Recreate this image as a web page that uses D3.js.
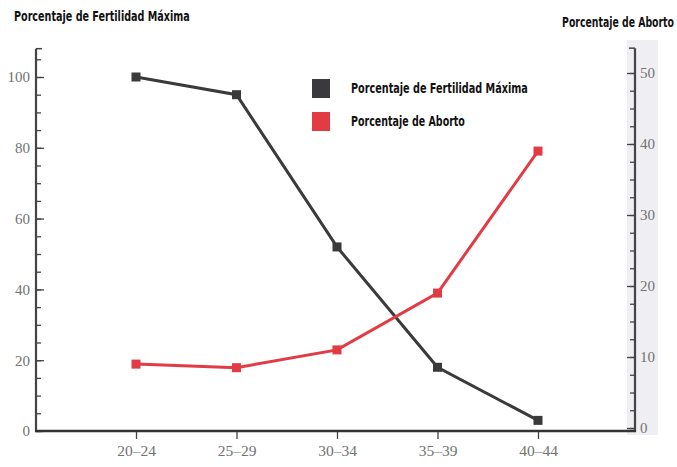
<!DOCTYPE html>
<html>
<head>
<meta charset="utf-8">
<script src="https://cdn.jsdelivr.net/npm/d3@7"></script>
<style>
  html, body { margin: 0; padding: 0; background: #fff; }
  svg { display: block; }
  .ttl { font-family: "Liberation Sans Narrow", "DejaVu Sans Condensed", sans-serif; font-weight: bold; fill: #111; font-stretch: condensed; }
  .tick text { font-family: "Liberation Serif", "DejaVu Serif", serif; fill: #727272; }
</style>
</head>
<body>
<script>
const categories = ["20–24", "25–29", "30–34", "35–39", "40–44"];
const fertilidad = [100, 95, 52, 18, 3];
const aborto = [9, 8.5, 11, 19, 39];
const leftTicks = [0, 20, 40, 60, 80, 100];
const rightTicks = [0, 10, 20, 30, 40, 50];
const seriesNames = ["Porcentaje de Fertilidad Máxima", "Porcentaje de Aborto"];
const leftTitle = "Porcentaje de Fertilidad Máxima";
const rightTitle = "Porcentaje de Aborto";

const W = 677, H = 467;
const svg = d3.select("body").append("svg").attr("width", W).attr("height", H);

const x = d3.scalePoint().domain(categories).range([136, 538]);
const yL = d3.scaleLinear().domain([0, 100]).range([431, 77]);
const yR = d3.scaleLinear().domain([0, 50]).range([428, 73]);

const axisColor = "#444";

// light strip behind right axis
svg.append("rect").attr("x", 627).attr("y", 40).attr("width", 31).attr("height", 395).attr("fill", "#efeff3");

// Left axis
const gL = svg.append("g").attr("transform", "translate(36,0)");
gL.call(d3.axisLeft(yL).tickValues(d3.range(0, 110, 5)).tickSizeInner(-5).tickSizeOuter(0).tickFormat(""));
gL.select(".domain").remove();
gL.selectAll(".tick line").attr("stroke", axisColor).attr("stroke-width", 1.3);
const gL2 = svg.append("g").attr("transform", "translate(36,0)");
gL2.call(d3.axisLeft(yL).tickValues(leftTicks).tickSizeInner(-8).tickSizeOuter(0).tickPadding(6).tickFormat(d3.format("d")));
gL2.select(".domain").remove();
gL2.selectAll(".tick line").attr("stroke", axisColor).attr("stroke-width", 1.3);
gL2.selectAll(".tick text").attr("font-size", 15).attr("dy", "0.32em");
svg.append("line").attr("x1", 36).attr("x2", 36).attr("y1", yL(108)).attr("y2", 432)
  .attr("stroke", axisColor).attr("stroke-width", 2.2);
svg.append("line").attr("x1", 36).attr("x2", 42).attr("y1", yL(108)).attr("y2", yL(108))
  .attr("stroke", axisColor).attr("stroke-width", 1.5);

// Right axis
const gR = svg.append("g").attr("transform", "translate(635,0)");
gR.call(d3.axisRight(yR).tickValues(d3.range(0, 52.5, 2.5)).tickSizeInner(-5).tickSizeOuter(0).tickFormat(""));
gR.select(".domain").remove();
gR.selectAll(".tick line").attr("stroke", axisColor).attr("stroke-width", 1.3);
const gR2 = svg.append("g").attr("transform", "translate(635,0)");
gR2.call(d3.axisRight(yR).tickValues(rightTicks).tickSizeInner(-8).tickSizeOuter(0).tickPadding(5).tickFormat(d3.format("d")));
gR2.select(".domain").remove();
gR2.selectAll(".tick line").attr("stroke", axisColor).attr("stroke-width", 1.3);
gR2.selectAll(".tick text").attr("font-size", 15).attr("dy", "0.32em");
svg.append("line").attr("x1", 635).attr("x2", 635).attr("y1", yR(53.5)).attr("y2", 432)
  .attr("stroke", axisColor).attr("stroke-width", 2.2);
svg.append("line").attr("x1", 629).attr("x2", 635).attr("y1", yR(53.5)).attr("y2", yR(53.5))
  .attr("stroke", axisColor).attr("stroke-width", 1.5);

// X axis
const gX = svg.append("g").attr("transform", "translate(0,431)");
gX.call(d3.axisBottom(x).tickSizeInner(8).tickSizeOuter(0).tickPadding(6));
gX.select(".domain").remove();
gX.selectAll(".tick line").attr("stroke", axisColor).attr("stroke-width", 1.3);
gX.selectAll(".tick text").attr("font-size", 15.5);
svg.append("line").attr("x1", 35).attr("x2", 636).attr("y1", 431).attr("y2", 431)
  .attr("stroke", "#333").attr("stroke-width", 2.4);

// Lines
const colors = ["#3a3a3c", "#e23b43"];
const lineL = d3.line().x((d, i) => x(categories[i])).y(d => yL(d));
const lineR = d3.line().x((d, i) => x(categories[i])).y(d => yR(d));

svg.append("path").datum(fertilidad).attr("d", lineL).attr("fill", "none")
  .attr("stroke", colors[0]).attr("stroke-width", 3);
svg.selectAll(".mk0").data(fertilidad).enter().append("rect")
  .attr("x", (d, i) => x(categories[i]) - 4.5).attr("y", d => yL(d) - 4.5)
  .attr("width", 9).attr("height", 9).attr("fill", colors[0]);

svg.append("path").datum(aborto).attr("d", lineR).attr("fill", "none")
  .attr("stroke", colors[1]).attr("stroke-width", 3);
svg.selectAll(".mk1").data(aborto).enter().append("rect")
  .attr("x", (d, i) => x(categories[i]) - 4.5).attr("y", d => yR(d) - 4.5)
  .attr("width", 9).attr("height", 9).attr("fill", colors[1]);

// helper: text squeezed horizontally to a target width via transform
function fitText(str, x0, y0, size, width, anchor) {
  const g = svg.append("g");
  const t = g.append("text").attr("class", "ttl").attr("font-size", size)
    .attr("text-anchor", anchor).text(str);
  const natural = t.node().getComputedTextLength();
  const s = Math.min(1, width / natural);
  g.attr("transform", `translate(${x0},${y0}) scale(${s},1)`);
  return g;
}

// Legend
seriesNames.forEach((name, i) => {
  const y0 = 79 + i * 33;
  svg.append("rect").attr("x", 312).attr("y", y0).attr("width", 18).attr("height", 19).attr("fill", colors[i]);
  fitText(name, 351, y0 + 14, 14, i === 0 ? 177 : 114, "start");
});

// Titles
fitText(leftTitle, 14, 21, 14, 176, "start");
fitText(rightTitle, 674, 27, 14, 112, "end");
</script>
</body>
</html>
